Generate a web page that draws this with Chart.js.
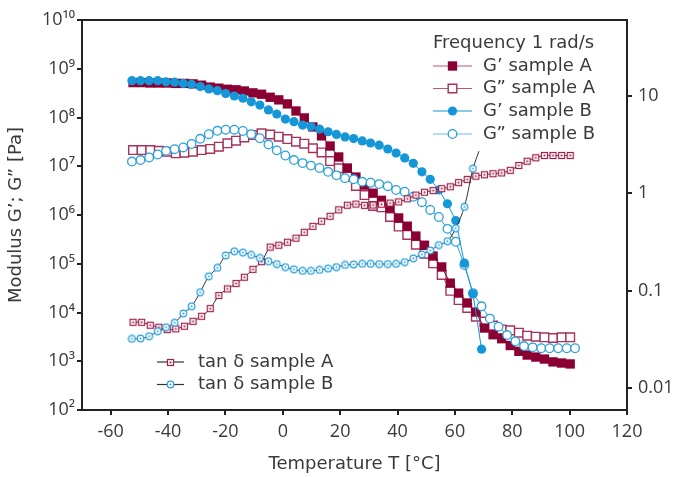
<!DOCTYPE html>
<html><head><meta charset="utf-8">
<script src="https://cdn.jsdelivr.net/npm/chart.js@4.4.1/dist/chart.umd.min.js"></script>
<style>html,body{margin:0;padding:0;background:#fff}#wrap{width:678px;height:477px;position:relative}</style>
</head><body><div id="wrap"><canvas id="c" width="678" height="477"></canvas></div>
<script>
// ---- data ----
const tempsA = [-52.2,-49.2,-46.2,-43.2,-40.3,-37.3,-34.3,-31.3,-28.3,-25.3,-22.3,-19.3,-16.3,-13.4,-10.4,-7.4,-4.4,-1.4,1.6,4.6,7.5,10.5,13.5,16.5,19.5,22.5,25.5,28.5,31.5,34.4,37.4,40.4,43.4,46.4,49.4,52.4,55.4,58.4,61.3,64.3,67.3,70.3,73.3,76.3,79.3,82.3,85.2,88.2,91.2,94.2,97.2,100.2];
const gPrimeA = [5.2e8,5.2e8,5.1e8,5.1e8,5.1e8,5.0e8,5.0e8,4.9e8,4.6e8,4.2e8,4.0e8,3.8e8,3.7e8,3.5e8,3.2e8,3.0e8,2.6e8,2.3e8,1.9e8,1.36e8,9.8e7,6.4e7,4.2e7,2.6e7,1.55e7,9.2e6,6.0e6,4.1e6,2.8e6,2.0e6,1.4e6,8.7e5,5.9e5,3.7e5,2.4e5,1.44e5,8.6e4,4.0e4,2.5e4,1.57e4,1.02e4,4.8e3,3.5e3,2.9e3,2.1e3,1.6e3,1.34e3,1.22e3,1.11e3,970,920,880];
const gDoublePrimeA = [2.15e7,2.15e7,2.15e7,2.08e7,1.99e7,1.84e7,1.90e7,1.99e7,2.15e7,2.26e7,2.52e7,2.96e7,3.34e7,3.89e7,4.38e7,4.74e7,4.48e7,4.04e7,3.62e7,3.19e7,2.90e7,2.34e7,1.92e7,1.28e7,9.1e6,6.1e6,3.94e6,2.57e6,1.53e6,1.44e6,9.1e5,5.8e5,3.9e5,2.46e5,1.61e5,1.02e5,5.9e4,2.79e4,1.80e4,1.24e4,8.2e3,6.5e3,5.4e3,4.5e3,4.3e3,3.85e3,3.34e3,3.19e3,3.10e3,3.0e3,3.10e3,3.10e3];
const tanDeltaA = [0.0473,0.0473,0.0441,0.0421,0.0398,0.0405,0.0431,0.0484,0.0545,0.0653,0.0889,0.104,0.118,0.137,0.165,0.198,0.279,0.292,0.313,0.345,0.396,0.456,0.514,0.578,0.673,0.750,0.771,0.748,0.754,0.768,0.789,0.812,0.873,0.953,1.02,1.06,1.11,1.16,1.28,1.38,1.49,1.54,1.58,1.61,1.71,1.92,2.12,2.30,2.43,2.43,2.43,2.43];
const tempsB = [-52.6,-49.6,-46.6,-43.6,-40.7,-37.7,-34.7,-31.8,-28.8,-25.8,-22.8,-19.9,-16.9,-13.9,-11.0,-8.0,-5.0,-2.1,0.9,3.9,6.9,9.8,12.8,15.8,18.7,21.7,24.7,27.7,30.6,33.6,36.6,39.5,42.5,45.5,48.5,51.4,54.4,57.4,60.3,63.3,66.3,69.3,72.2,75.2,78.2,81.1,84.1,87.1,90.1,93.0,96.0,99.0,101.9];
const gPrimeB = [5.7e8,5.7e8,5.7e8,5.7e8,5.4e8,5.3e8,5.0e8,4.8e8,4.3e8,3.85e8,3.55e8,3.1e8,2.76e8,2.48e8,2.1e8,1.8e8,1.43e8,1.18e8,9.3e7,8.2e7,7.0e7,6.5e7,5.8e7,5.1e7,4.5e7,4.0e7,3.7e7,3.3e7,3.0e7,2.7e7,2.26e7,1.87e7,1.48e7,1.15e7,7.7e6,5.4e6,3.26e6,1.7e6,7.7e5,1.03e5,2.4e4,1.77e3];
const gDoublePrimeB = [1.25e7,1.34e7,1.51e7,1.74e7,2.07e7,2.24e7,2.43e7,2.86e7,3.66e7,4.54e7,5.33e7,5.62e7,5.62e7,5.28e7,4.54e7,3.75e7,2.79e7,2.12e7,1.66e7,1.34e7,1.16e7,1.03e7,9.2e6,7.7e6,6.5e6,5.7e6,5.4e6,4.8e6,4.6e6,4.3e6,3.9e6,3.26e6,3.0e6,2.37e6,1.83e6,1.27e6,9.1e5,5.2e5,2.83e5,9.4e4,2.5e4,1.34e4,7.5e3,5.1e3,3.45e3,2.56e3,2.05e3,1.93e3,1.85e3,1.85e3,1.85e3,1.85e3,1.85e3];
const tempsTanB = [-52.6,-49.6,-46.6,-43.6,-40.7,-37.7,-34.7,-31.8,-28.8,-25.8,-22.8,-19.9,-16.9,-13.9,-11.0,-8.0,-5.0,-2.1,0.9,3.9,6.9,9.8,12.8,15.8,18.7,21.7,24.7,27.7,30.6,33.6,36.6,39.5,42.5,45.5,48.5,51.4,54.4,57.4,60.3,63.3,66.3,68.4];
const tanDeltaB = [0.0320,0.0322,0.0340,0.0383,0.0421,0.0467,0.0581,0.0690,0.0961,0.140,0.171,0.229,0.253,0.245,0.232,0.216,0.200,0.187,0.174,0.165,0.159,0.159,0.163,0.168,0.174,0.183,0.185,0.188,0.188,0.187,0.187,0.188,0.196,0.214,0.235,0.258,0.293,0.321,0.436,0.721,1.78,2.69];
const xTicks = [-60,-40,-20,0,20,40,60,80,100,120];
const modulusTicks = [1e2,1e3,1e4,1e5,1e6,1e7,1e8,1e9,1e10];
const tanTicks = [0.01,0.1,1,10];
const legendTitle = 'Frequency 1 rad/s';
const labels = ['G’ sample A','G” sample A','G’ sample B','G” sample B','tan δ sample A','tan δ sample B'];

// ---- styling ----
const FONT = "'Open Sans','DejaVu Sans',sans-serif";
const TFONT = "'DejaVu Sans',sans-serif";
const TXT = '#3a3a3a';
const AX = '#222';
const RED = '#8b0032', RED2 = '#a8325a', BLUE = '#1496d8', BLUE2 = '#2aa0dc';

function marker(kind, color) {
  const c = document.createElement('canvas'); c.width = 9; c.height = 9;
  const g = c.getContext('2d');
  g.fillStyle = '#fff'; g.strokeStyle = color; g.lineWidth = 1.2;
  if (kind === 'square') {
    g.fillRect(1.5,1.5,6,6); g.strokeRect(1.5,1.5,6,6);
    g.fillStyle = color; g.fillRect(3.6,3.6,1.8,1.8);
  } else {
    g.beginPath(); g.arc(4.5,4.5,3.3,0,Math.PI*2); g.fill(); g.stroke();
    g.fillStyle = color; g.beginPath(); g.arc(4.5,4.5,1,0,Math.PI*2); g.fill();
  }
  return c;
}
const tanMarkA = marker('square', '#a0204a');
const tanMarkB = marker('circle', BLUE2);

const pts = (xs, ys) => ys.map((v, i) => ({x: xs[i], y: v}));
const supMap = {'0':'⁰','1':'¹','2':'²','3':'³','4':'⁴','5':'⁵','6':'⁶','7':'⁷','8':'⁸','9':'⁹'};
const sup = n => String(n).split('').map(ch => supMap[ch]).join('');

const datasets = [
  {label: labels[5], data: pts(tempsTanB, tanDeltaB), yAxisID: 'y2', order: 0,
   borderColor: '#333', borderWidth: 1, tension: 0.35, pointStyle: tanMarkB,
   pointRadius: c => c.dataIndex === tanDeltaB.length - 1 ? 0 : 3, legendLine: '#333'},
  {label: labels[4], data: pts(tempsA, tanDeltaA), yAxisID: 'y2', order: 1,
   borderColor: '#333', borderWidth: 1, tension: 0.35, pointStyle: tanMarkA, pointRadius: 3, legendLine: '#333'},
  {label: labels[2], data: pts(tempsB, gPrimeB), yAxisID: 'y', order: 2,
   borderColor: BLUE, borderWidth: 1, pointStyle: 'circle', pointRadius: 4.6,
   pointBackgroundColor: BLUE, pointBorderColor: BLUE, pointBorderWidth: 0, legendLine: BLUE},
  {label: labels[3], data: pts(tempsB, gDoublePrimeB), yAxisID: 'y', order: 3,
   borderColor: BLUE2, borderWidth: 1, pointStyle: 'circle', pointRadius: 4.3,
   pointBackgroundColor: '#fff', pointBorderColor: BLUE2, pointBorderWidth: 1.3, legendLine: '#6dbfe8'},
  {label: labels[0], data: pts(tempsA, gPrimeA), yAxisID: 'y', order: 4,
   borderColor: RED, borderWidth: 1, pointStyle: 'rect', pointRadius: 6.6,
   pointBackgroundColor: RED, pointBorderColor: RED, pointBorderWidth: 0, legendLine: '#b8587a'},
  {label: labels[1], data: pts(tempsA, gDoublePrimeA), yAxisID: 'y', order: 5,
   borderColor: RED2, borderWidth: 1, pointStyle: 'rect', pointRadius: 6.1,
   pointBackgroundColor: '#fff', pointBorderColor: RED2, pointBorderWidth: 1.4, legendLine: '#b8587a'}
];
datasets.forEach(d => { d.showLine = true; d.fill = false; });

function drawMark(ctx, ds, x, y) {
  const st = ds.pointStyle;
  if (typeof st === 'object') { ctx.drawImage(st, Math.round(x - st.width/2), Math.round(y - st.height/2)); return; }
  const r = typeof ds.pointRadius === 'number' ? ds.pointRadius : 3;
  ctx.save();
  ctx.fillStyle = ds.pointBackgroundColor; ctx.strokeStyle = ds.pointBorderColor; ctx.lineWidth = ds.pointBorderWidth;
  ctx.beginPath();
  if (st === 'rect') { const s = r * Math.SQRT1_2; ctx.rect(x - s, y - s, 2*s, 2*s); }
  else ctx.arc(x, y, r, 0, Math.PI*2);
  ctx.fill(); if (ds.pointBorderWidth > 0) ctx.stroke();
  ctx.restore();
}

const legendPlugin = {
  id: 'customLegend',
  afterDraw(chart) {
    const ctx = chart.ctx; const ds = chart.data.datasets;
    ctx.save();
    ctx.font = '18px ' + TFONT; ctx.fillStyle = TXT; ctx.textBaseline = 'middle'; ctx.textAlign = 'left';
    ctx.fillText(legendTitle, 433, 43);
    const items = [
      {d: ds[4], y: 66, x0: 433, x1: 472, tx: 483},
      {d: ds[5], y: 88.5, x0: 433, x1: 472, tx: 483},
      {d: ds[2], y: 111, x0: 433, x1: 472, tx: 483},
      {d: ds[3], y: 134, x0: 433, x1: 472, tx: 483},
      {d: ds[1], y: 362, x0: 157, x1: 184, tx: 198},
      {d: ds[0], y: 384.5, x0: 157, x1: 184, tx: 198}
    ];
    items.forEach(it => {
      ctx.strokeStyle = it.d.legendLine; ctx.lineWidth = 1.2;
      ctx.beginPath(); ctx.moveTo(it.x0, it.y); ctx.lineTo(it.x1, it.y); ctx.stroke();
      drawMark(ctx, it.d, (it.x0 + it.x1) / 2, it.y);
      ctx.fillStyle = TXT; ctx.fillText(it.d.label, it.tx, it.y);
    });
    // top frame line
    const a = chart.chartArea;
    ctx.strokeStyle = AX; ctx.lineWidth = 2;
    ctx.beginPath(); ctx.moveTo(a.left - 1, a.top); ctx.lineTo(a.right + 1, a.top); ctx.stroke();
    ctx.restore();
  }
};

const tickFont = {family: FONT, size: 18};
const titleFont = {family: TFONT, size: 18};
const gridOpts = {drawOnChartArea: false, drawTicks: true, tickLength: 5, lineWidth: 2, color: AX};
const borderOpts = {display: true, width: 2, color: AX};

new Chart(document.getElementById('c'), {
  type: 'scatter',
  data: {datasets},
  options: {
    responsive: false, animation: false, devicePixelRatio: 1,
    layout: {padding: {top: 20, left: 0, right: 0, bottom: 0}},
    plugins: {legend: {display: false}, tooltip: {enabled: false}},
    scales: {
      x: {type: 'linear', position: 'bottom', min: -70, max: 120,
        afterBuildTicks: s => { s.ticks = xTicks.map(v => ({value: v})); },
        afterFit: s => { s.height = 67; },
        ticks: {font: tickFont, color: TXT, padding: 6, maxRotation: 0, autoSkip: false},
        grid: gridOpts, border: borderOpts,
        title: {display: true, text: 'Temperature T [°C]', font: titleFont, color: TXT, padding: {top: 0, bottom: 2}}},
      y: {type: 'logarithmic', position: 'left', min: 1e2, max: 1e10,
        afterBuildTicks: s => { s.ticks = modulusTicks.map(v => ({value: v})); },
        afterFit: s => { s.width = 82; },
        ticks: {font: tickFont, color: TXT, padding: 2, autoSkip: false,
          callback: v => '10' + sup(Math.round(Math.log10(v)))},
        grid: gridOpts, border: borderOpts,
        title: {display: true, text: 'Modulus G’; G” [Pa]', font: titleFont, color: TXT, padding: {top: 6, bottom: 0}}},
      y2: {type: 'logarithmic', position: 'right', min: 0.005957, max: 59.57,
        afterBuildTicks: s => { s.ticks = tanTicks.map(v => ({value: v})); },
        afterFit: s => { s.width = 51; },
        ticks: {font: tickFont, color: TXT, padding: 6, autoSkip: false, callback: v => String(v)},
        grid: gridOpts, border: borderOpts}
    }
  },
  plugins: [legendPlugin]
});
</script></body></html>
